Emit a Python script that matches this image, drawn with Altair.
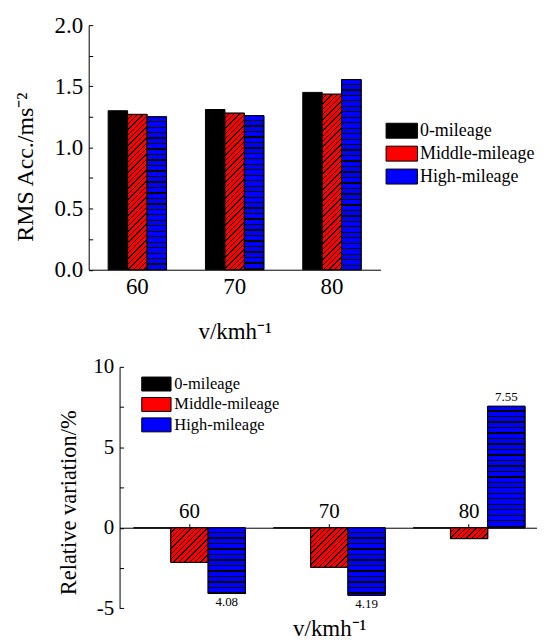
import altair as alt
import pandas as pd

# ---------------- data ----------------
speeds = ["60", "70", "80"]
series = ["0-mileage", "Middle-mileage", "High-mileage"]
colors = ["#000000", "#ff0000", "#0000ff"]

rms_zero = [1.30, 1.31, 1.45]
rms_mid = [1.27, 1.28, 1.435]
rms_high = [1.25, 1.26, 1.555]

var_zero = [0.0, 0.0, 0.0]
var_mid = [-2.15, -2.45, -0.67]
var_high = [-4.08, -4.19, 7.55]
var_high_labels = ["4.08", "4.19", "7.55"]

top_ticks = [0.0, 0.25, 0.5, 0.75, 1.0, 1.25, 1.5, 1.75, 2.0]
bot_ticks = [-5, -2.5, 0, 2.5, 5, 7.5, 10]

FONT = "Liberation Serif"

# ---------------- geometry (plot sizes) ----------------
TOP_W, TOP_H = 293, 245.5
TOP_PI, TOP_PO = 0.4, 0.2
BOT_SHIFT = 31
BOT_W, BOT_H = 421, 242.4
BOT_PI, BOT_PO = 0.2, 0.1

top_bar_w = TOP_W / 3 * (1 - TOP_PI) / 3
top_ppu = TOP_H / 2.0
bot_bar_w = BOT_W / 3 * (1 - BOT_PI) / 3
bot_ppu = BOT_H / 15.0


def stripe_stops(length, period, thick, bg, fg):
    stops = [{"offset": 0, "color": bg}]
    pos = period - thick
    while pos < length:
        a = round(pos / length, 5)
        b = round(min((pos + thick) / length, 1.0), 5)
        stops += [{"offset": a, "color": bg}, {"offset": a, "color": fg},
                  {"offset": b, "color": fg}, {"offset": b, "color": bg}]
        pos += period
    stops.append({"offset": 1, "color": bg})
    return stops


def horiz_fill(h):
    return {"gradient": "linear", "x1": 0, "y1": 0, "x2": 0, "y2": 1,
            "stops": stripe_stops(h, 5.5, 1.3, "#0000ff", "#000000")}


def diag_fill(w, h):
    k = (w + h) / (w * w + h * h)
    return {"gradient": "linear", "x1": 0, "y1": 0,
            "x2": round(w * k, 5), "y2": round(h * k, 5),
            "stops": stripe_stops(w + h, 5.4, 1.4, "#ff0000", "#000000")}


def make_df(vals):
    rows = []
    for s, v in zip(series, vals):
        for sp, x in zip(speeds, v):
            rows.append({"speed": sp, "series": s, "value": x})
    return pd.DataFrame(rows)


# ---------------- top chart ----------------
top_df = make_df([rms_zero, rms_mid, rms_high])

top_xscale = alt.Scale(domain=speeds, paddingInner=TOP_PI, paddingOuter=TOP_PO)
off_scale = alt.Scale(domain=series, paddingInner=0, paddingOuter=0)
top_yscale = alt.Scale(domain=[0, 2], nice=False, zero=True)

top_xaxis = alt.Axis(title="v/kmh⁻¹", labelAngle=0, labelFont=FONT, labelFontSize=23,
                     labelColor="black", tickColor="black", domainColor="black",
                     tickSize={"expr": "-4"}, labelPadding=10,
                     titleFont=FONT, titleFontSize=23, titleFontWeight="normal",
                     titleColor="black", titleY=69, titleBaseline="alphabetic")
top_yaxis = alt.Axis(title="RMS Acc./ms⁻²", values=top_ticks,
                     labelExpr="round(datum.value*4) % 2 == 0 ? format(datum.value, '.1f') : ''",
                     labelFont=FONT, labelFontSize=23, labelColor="black",
                     tickColor="black", domainColor="black", tickSize={"expr": "-4"},
                     labelPadding=10, grid=False,
                     titleFont=FONT, titleFontSize=24, titleFontWeight="normal",
                     titleColor="black", titleX=-56.5, titleY=142,
                     titleBaseline="alphabetic", titleAngle=270, titleAlign="center")

top_legend = alt.Legend(title=None, orient="none", legendX=297, legendY=97,
                        symbolType="M-1,-1H3.2V1H-1Z", symbolSize=225,
                        symbolStrokeColor="black", symbolStrokeWidth=1, symbolOpacity=1,
                        labelFont=FONT, labelFontSize=18, labelColor="black",
                        labelOffset=17.5, rowPadding=3, labelLimit=300, padding=0)

top_base = alt.Chart(top_df).mark_bar(stroke="black", strokeWidth=1).encode(
    x=alt.X("speed:N", scale=top_xscale, axis=top_xaxis),
    xOffset=alt.XOffset("series:N", scale=off_scale),
    y=alt.Y("value:Q", scale=top_yscale, axis=top_yaxis),
    fill=alt.Fill("series:N", scale=alt.Scale(domain=series, range=colors), legend=top_legend),
)

top_layers = [top_base]
for si, vals in ((1, rms_mid), (2, rms_high)):
    for sp, v in zip(speeds, vals):
        h = v * top_ppu
        fill = diag_fill(top_bar_w, h) if si == 1 else horiz_fill(h)
        lay = alt.Chart(top_df).transform_filter(
            f"datum.speed == '{sp}' && datum.series == '{series[si]}'"
        ).mark_bar(stroke="black", strokeWidth=1, fill=fill).encode(
            x=alt.X("speed:N", scale=top_xscale, axis=None),
            xOffset=alt.XOffset("series:N", scale=off_scale),
            y=alt.Y("value:Q", scale=top_yscale, axis=None),
        )
        top_layers.append(lay)

top_chart = alt.layer(*top_layers).resolve_axis(x="independent", y="independent").properties(
    width=TOP_W, height=TOP_H)

# ---------------- bottom chart ----------------
bot_df = make_df([var_zero, var_mid, var_high])
lab_df = pd.DataFrame({"speed": speeds, "series": [series[2]] * 3,
                       "value": var_high, "label": var_high_labels})

bot_xscale = alt.Scale(domain=speeds, paddingInner=BOT_PI, paddingOuter=BOT_PO,
                       range=[BOT_SHIFT, BOT_SHIFT + BOT_W])
bot_yscale = alt.Scale(domain=[-5, 10], nice=False, zero=False)

bot_xaxis = alt.Axis(title=None, orient="top", offset=-161.5, labelAngle=0,
                     labelFont=FONT, labelFontSize=21, labelColor="black",
                     tickColor="black", domainColor="black", tickSize=4, labelPadding=2)
bot_xaxis2 = alt.Axis(title="v/kmh⁻¹", orient="bottom", labels=False, ticks=False,
                      domain=False, titleFont=FONT, titleFontSize=23,
                      titleFontWeight="normal", titleColor="black", titleY=27,
                      titleBaseline="alphabetic")
bot_yaxis = alt.Axis(title="Relative variation/%", values=bot_ticks, offset=-BOT_SHIFT,
                     labelExpr="round(datum.value*2) % 2 == 0 ? toString(datum.value) : ''",
                     labelFont=FONT, labelFontSize=21, labelColor="black",
                     tickColor="black", domainColor="black", tickSize={"expr": "-4"},
                     labelPadding=10, grid=False,
                     titleFont=FONT, titleFontSize=22.5, titleFontWeight="normal",
                     titleColor="black", titleX=-44, titleY=136,
                     titleBaseline="alphabetic", titleAngle=270, titleAlign="center")

bot_legend = alt.Legend(title=None, orient="none", legendX=52, legendY=9,
                        symbolType="M-1,-1H3.2V1H-1Z", symbolSize=196,
                        symbolStrokeColor="black", symbolStrokeWidth=1, symbolOpacity=1,
                        labelFont=FONT, labelFontSize=16.5, labelColor="black",
                        labelOffset=17.5, rowPadding=1.5, labelLimit=300, padding=0)

bot_base = alt.Chart(bot_df).mark_bar(stroke="black", strokeWidth=1).encode(
    x=alt.X("speed:N", scale=bot_xscale, axis=bot_xaxis),
    xOffset=alt.XOffset("series:N", scale=off_scale),
    y=alt.Y("value:Q", scale=bot_yscale, axis=bot_yaxis),
    fill=alt.Fill("series:N", scale=alt.Scale(domain=series, range=colors), legend=bot_legend),
)

bot_layers = [bot_base]
for si, vals in ((1, var_mid), (2, var_high)):
    for sp, v in zip(speeds, vals):
        h = abs(v) * bot_ppu
        fill = diag_fill(bot_bar_w, h) if si == 1 else horiz_fill(h)
        lay = alt.Chart(bot_df).transform_filter(
            f"datum.speed == '{sp}' && datum.series == '{series[si]}'"
        ).mark_bar(stroke="black", strokeWidth=1, fill=fill).encode(
            x=alt.X("speed:N", scale=bot_xscale, axis=None),
            xOffset=alt.XOffset("series:N", scale=off_scale),
            y=alt.Y("value:Q", scale=bot_yscale, axis=None),
        )
        bot_layers.append(lay)

lab_neg = alt.Chart(lab_df).transform_filter("datum.value < 0").mark_text(
    baseline="top", dy=3, font=FONT, fontSize=13, color="black").encode(
    x=alt.X("speed:N", scale=bot_xscale, axis=bot_xaxis2),
    xOffset=alt.XOffset("series:N", scale=off_scale),
    y=alt.Y("value:Q", scale=bot_yscale, axis=None),
    text="label:N",
)
lab_pos = alt.Chart(lab_df).transform_filter("datum.value > 0").mark_text(
    baseline="bottom", dy=-2, font=FONT, fontSize=13, color="black").encode(
    x=alt.X("speed:N", scale=bot_xscale, axis=None),
    xOffset=alt.XOffset("series:N", scale=off_scale),
    y=alt.Y("value:Q", scale=bot_yscale, axis=None),
    text="label:N",
)
bot_layers += [lab_neg, lab_pos]

bot_chart = alt.layer(*bot_layers).resolve_axis(x="independent", y="independent").properties(
    width=BOT_W + BOT_SHIFT, height=BOT_H)

chart = alt.vconcat(top_chart, bot_chart, spacing=12).resolve_scale(
    fill="independent", xOffset="independent").resolve_legend(
    fill="independent").configure_view(stroke=None).properties(
    padding={"left": 5, "top": 5, "right": -2, "bottom": 0}, background="white")

chart.save("out.html", embed_options={"renderer": "svg", "actions": False})
